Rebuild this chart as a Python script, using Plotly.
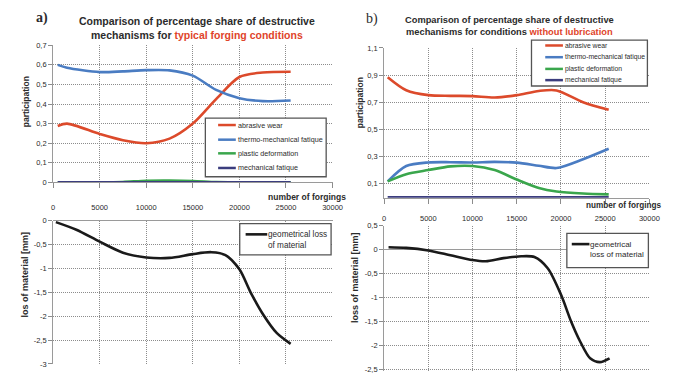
import plotly.graph_objects as go

W, H = 680, 376

# ---------------- data ----------------
series_names = ["abrasive wear", "thermo-mechanical fatique", "plastic deformation", "mechanical fatique"]
loss_name_a = "geometrical loss<br>of material"
loss_name_b = "geometrical<br>loss of material"

# a) typical forging conditions
x_a = [500, 1500, 5000, 7500, 10000, 12500, 15000, 17500, 20000, 22500, 25500]
a_abrasive = [0.288, 0.300, 0.247, 0.215, 0.200, 0.223, 0.300, 0.425, 0.538, 0.561, 0.565]
a_thermo = [0.600, 0.585, 0.563, 0.567, 0.573, 0.572, 0.545, 0.472, 0.430, 0.415, 0.418]
a_plastic = [0.0, 0.0, 0.0, 0.002, 0.008, 0.009, 0.007, 0.001, 0.0, 0.0, 0.0]
a_mech = [0.0, 0.0, 0.0, 0.0, 0.0, 0.0, 0.0, 0.0, 0.0, 0.0, 0.0]

x_a_loss = [300, 2500, 5000, 7500, 10000, 12500, 15000, 17000, 18500, 20000, 21200, 22600, 24000, 25500]
a_loss = [-0.03, -0.19, -0.44, -0.67, -0.77, -0.78, -0.70, -0.66, -0.72, -1.02, -1.50, -1.98, -2.35, -2.58]

# b) without lubrication
x_b = [400, 2500, 5000, 7500, 10000, 12500, 15000, 17500, 19500, 22500, 25400]
b_abrasive = [0.884, 0.788, 0.752, 0.747, 0.745, 0.735, 0.752, 0.783, 0.787, 0.700, 0.644]
b_thermo = [0.117, 0.230, 0.256, 0.258, 0.256, 0.260, 0.255, 0.232, 0.215, 0.280, 0.357]
b_plastic = [0.117, 0.170, 0.200, 0.227, 0.230, 0.200, 0.130, 0.068, 0.042, 0.027, 0.021]
b_mech = [0.0, 0.0, 0.0, 0.0, 0.0, 0.0, 0.0, 0.0, 0.0, 0.0, 0.0]

x_b_loss = [500, 2500, 5000, 7500, 10000, 11500, 13500, 15500, 17000, 18500, 20000, 21100, 22200, 23300, 24400, 25500]
b_loss = [0.048, 0.035, -0.02, -0.12, -0.22, -0.245, -0.18, -0.14, -0.156, -0.39, -0.94, -1.48, -1.93, -2.27, -2.35, -2.27]

# ticks
x_ticks = [0, 5000, 10000, 15000, 20000, 25000, 30000]
x_ticktext = ["0", "5000", "10000", "15000", "20000", "25000", "30000"]
a_yticks = [0, 0.1, 0.2, 0.3, 0.4, 0.5, 0.6, 0.7]
a_yticktext = ["0", "0,1", "0,2", "0,3", "0,4", "0,5", "0,6", "0,7"]
a_loss_yticks = [-3, -2.5, -2, -1.5, -1, -0.5, 0]
a_loss_yticktext = ["-3", "-2,5", "-2", "-1,5", "-1", "-0,5", "0"]
b_yticks = [0.1, 0.3, 0.5, 0.7, 0.9, 1.1]
b_yticktext = ["0,1", "0,3", "0,5", "0,7", "0,9", "1,1"]
b_loss_yticks = [-2.5, -2, -1.5, -1, -0.5, 0, 0.5]
b_loss_yticktext = ["-2,5", "-2", "-1,5", "-1", "-0,5", "0", "0,5"]

# ---------------- style ----------------
colors = ["#dc4a2b", "#4a7cc2", "#3aa64c", "#3b3d7e"]
loss_color = "#1a1a1a"
grid_color = "#8c8c8c"
axis_color = "#9a9a9a"
text_color = "#2b2b2b"
title_red = "#e0442a"
FONT = "Liberation Sans, Arial, sans-serif"
NARROW = "Liberation Sans Narrow, Liberation Sans, Arial, sans-serif"
GRID_DASH = "1px,1px"


def X(px):
    return px / W


def Y(py):
    return 1 - py / H


fig = go.Figure()

def add_series(xs, ys_list, xa, ya):
    for name, ys, c in zip(series_names, ys_list, colors):
        fig.add_trace(go.Scatter(x=xs, y=ys, name=name, mode="lines",
                                 line=dict(color=c, width=2.6, shape="spline", smoothing=0.8),
                                 xaxis=xa, yaxis=ya, showlegend=False))

add_series(x_a, [a_abrasive, a_thermo, a_plastic, a_mech], "x", "y")
fig.add_trace(go.Scatter(x=x_a_loss, y=a_loss, name="geometrical loss of material", mode="lines",
                         line=dict(color=loss_color, width=2.6, shape="spline", smoothing=0.8),
                         xaxis="x2", yaxis="y2", showlegend=False))
add_series(x_b, [b_abrasive, b_thermo, b_plastic, b_mech], "x3", "y3")
fig.add_trace(go.Scatter(x=x_b_loss, y=b_loss, name="geometrical loss of material", mode="lines",
                         line=dict(color=loss_color, width=2.6, shape="spline", smoothing=0.8),
                         xaxis="x4", yaxis="y4", showlegend=False))

tickfont = dict(family=FONT, size=7.5, color=text_color)

def xaxis(dom, show_labels, standoff=0, anchor="y"):
    d = dict(domain=dom, range=[0, 30000], tickmode="array", tickvals=x_ticks, ticktext=x_ticktext,
             showgrid=True, gridcolor=grid_color, griddash=GRID_DASH, gridwidth=1,
             zeroline=False, showline=show_labels, linecolor=axis_color, linewidth=1,
             ticks="outside" if show_labels else "", ticklen=5, tickcolor=grid_color,
             showticklabels=show_labels, tickfont=tickfont, anchor=anchor, fixedrange=True)
    if show_labels:
        d["ticklabelstandoff"] = standoff
    return d


def yaxis(dom, rng, tv, tt, anchor, zero):
    return dict(domain=dom, range=rng, tickmode="array", tickvals=tv, ticktext=tt,
                showgrid=True, gridcolor=grid_color, griddash=GRID_DASH, gridwidth=1,
                zeroline=zero, zerolinecolor=axis_color, zerolinewidth=1,
                showline=True, linecolor=axis_color, linewidth=1,
                ticks="outside", ticklen=4, tickcolor=grid_color,
                tickfont=tickfont, anchor=anchor, fixedrange=True)

LX = [X(52), X(336.5)]
RX = [X(389), X(659)]

fig.update_layout(
    width=W, height=H, margin=dict(l=0, r=0, t=0, b=0),
    paper_bgcolor="white", plot_bgcolor="white",
    xaxis=xaxis(LX, True, 13, "y"),
    yaxis=yaxis([Y(182.7), Y(42.3)], [0, 0.7], a_yticks, a_yticktext, "x", False),
    xaxis2=xaxis(LX, False, anchor="y2"),
    yaxis2=yaxis([Y(368.7), Y(222)], [-3, 0], a_loss_yticks, a_loss_yticktext, "x2", True),
    xaxis3=xaxis(RX, True, 8, "y3"),
    yaxis3=yaxis([Y(198.5), Y(45)], [-0.004, 1.1], b_yticks, b_yticktext, "x3", False),
    xaxis4=xaxis(RX, False, anchor="y4"),
    yaxis4=yaxis([0, Y(227)], [-2.535, 0.5], b_loss_yticks, b_loss_yticktext, "x4", True),
    showlegend=False,
)

ann = []
# panel letters
ann.append(dict(x=X(41), y=Y(14), text="<b>a)</b>", font=dict(family="Liberation Serif, serif", size=14, color=text_color)))
ann.append(dict(x=X(377), y=Y(15), text="b)", font=dict(family="Liberation Serif, serif", size=14, color=text_color)))
# titles
ann.append(dict(x=X(198), y=Y(24.5),
                text="<b>Comparison of percentage share of destructive<br>mechanisms for "
                     "<span style='color:%s'>typical forging conditions</span></b>" % title_red,
                font=dict(family=FONT, size=10.5, color=text_color), align="center"))
ann.append(dict(x=X(517), y=Y(23),
                text="<b>Comparison of percentage share of destructive<br>mechanisms for conditions "
                     "<span style='color:%s'>without lubrication</span></b>" % title_red,
                font=dict(family=FONT, size=9.3, color=text_color), align="center"))
# axis titles
ann.append(dict(x=X(24), y=Y(100), text="<b>participation</b>", textangle=-90,
                font=dict(family=FONT, size=8.5, color=text_color)))
ann.append(dict(x=X(23.5), y=Y(277), text="<b>los of material [mm]</b>", textangle=-90,
                font=dict(family=FONT, size=9, color=text_color)))
ann.append(dict(x=X(364), y=Y(101), text="<b>participation</b>", textangle=-90,
                font=dict(family=FONT, size=8.5, color=text_color)))
ann.append(dict(x=X(360), y=Y(280), text="<b>loss of material [mm]</b>", textangle=-90,
                font=dict(family=FONT, size=9, color=text_color)))
ann.append(dict(x=X(352), y=Y(198), text="<b>number of forgings</b>", xanchor="right",
                font=dict(family=FONT, size=8.5, color=text_color)))
ann.append(dict(x=X(673), y=Y(206), text="<b>number of forgings</b>", xanchor="right",
                font=dict(family=FONT, size=8.2, color=text_color)))

for a in ann:
    a.setdefault("xref", "paper")
    a.setdefault("yref", "paper")
    a.setdefault("showarrow", False)
    a.setdefault("xanchor", "center")
    a.setdefault("yanchor", "middle")
    fig.add_annotation(**a)


def add_legend(box, entries, line_x, text_x, fsize, lw=2.5):
    x0, x1, y0, y1 = box
    fig.add_shape(type="rect", xref="paper", yref="paper", x0=X(x0), x1=X(x1), y0=Y(y1), y1=Y(y0),
                  line=dict(color="#555555", width=1.3), fillcolor="white", layer="above")
    for name, color, py in entries:
        fig.add_shape(type="line", xref="paper", yref="paper", x0=X(line_x[0]), x1=X(line_x[1]),
                      y0=Y(py), y1=Y(py), line=dict(color=color, width=lw), layer="above")
        fig.add_annotation(x=X(text_x), y=Y(py), xref="paper", yref="paper", text=name, showarrow=False,
                           xanchor="left", yanchor="middle", align="left",
                           font=dict(family=NARROW, size=fsize, color=text_color))

add_legend((207, 330, 117, 177), list(zip(series_names, colors, [124, 139, 153, 168])), (220, 238), 238, 7.2)
add_legend((539, 657, 37, 84), list(zip(series_names, colors, [42.5, 54.5, 66.5, 78])), (553, 571), 571, 6.8)

# loss legends
fig.add_shape(type="rect", xref="paper", yref="paper", x0=X(242), x1=X(335), y0=Y(257), y1=Y(225),
              line=dict(color="#555555", width=1.3), fillcolor="white", layer="above")
fig.add_shape(type="line", xref="paper", yref="paper", x0=X(248), x1=X(270), y0=Y(236), y1=Y(236),
              line=dict(color=loss_color, width=2.6), layer="above")
fig.add_annotation(x=X(269), y=Y(230), xref="paper", yref="paper", text=loss_name_a, showarrow=False,
                   xanchor="left", yanchor="top", align="left",
                   font=dict(family=NARROW, size=8.2, color=text_color))
fig.add_shape(type="rect", xref="paper", yref="paper", x0=X(575), x1=X(658), y0=Y(270), y1=Y(235),
              line=dict(color="#555555", width=1.3), fillcolor="white", layer="above")
fig.add_shape(type="line", xref="paper", yref="paper", x0=X(580), x1=X(598), y0=Y(246), y1=Y(246),
              line=dict(color=loss_color, width=2.6), layer="above")
fig.add_annotation(x=X(597), y=Y(240), xref="paper", yref="paper", text=loss_name_b, showarrow=False,
                   xanchor="left", yanchor="top", align="left",
                   font=dict(family=NARROW, size=8.0, color=text_color))

fig.write_html("out.html", config={"displayModeBar": False})
